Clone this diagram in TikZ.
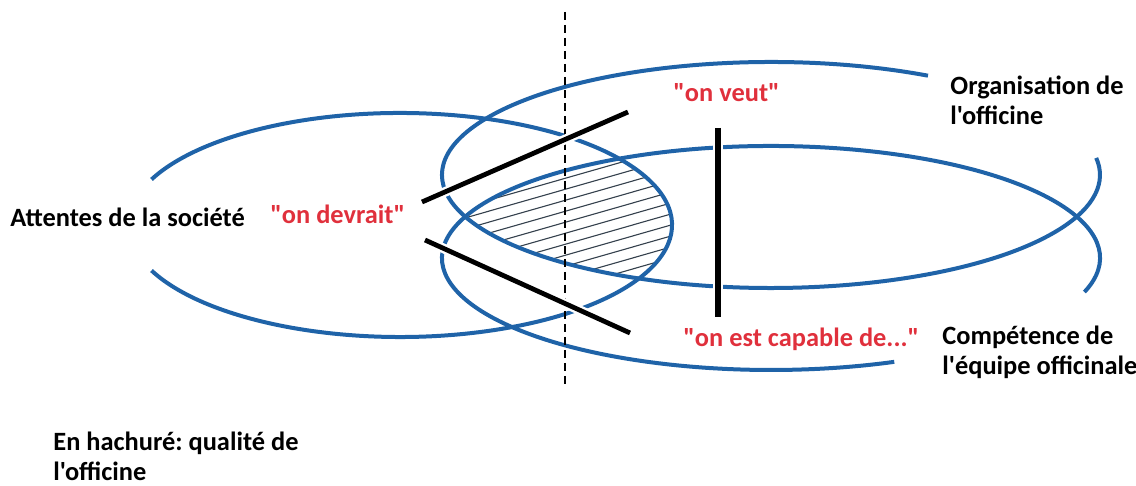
\documentclass[tikz,border=0pt]{standalone}
\usepackage{fontspec}
\setmainfont{Carlito}[Ligatures=TeXOff]
\usepackage{tikz}
\usetikzlibrary{positioning}
\definecolor{ring}{HTML}{1F63A8}
\definecolor{voice}{HTML}{E0303C}
\definecolor{hatchc}{HTML}{34404C}
\frenchspacing
\begin{document}
\begin{tikzpicture}[x=0.5pt,y=0.5pt,
      lbl/.style={font=\bfseries\fontsize{13.2}{15}\selectfont,inner sep=0pt,
                  anchor=west,align=left},
      say/.style={lbl,text=voice},
      loop/.style={ring,line width=2pt},
      bar/.style={line width=2.4pt,preaction={draw=white,line width=4.8pt}},
      hline/.style={hatchc,line width=0.55pt}]
    \useasboundingbox (0,0) rectangle (1136,486);
    \coordinate (cS) at (400,261);
    \coordinate (cO) at (771,311);
    \coordinate (cC) at (771,228);

    % hatched part
    \begin{scope}
      \clip (cS) ellipse [x radius=272, y radius=112];
      \clip (cO) ellipse [x radius=329, y radius=113];
      \clip (cC) ellipse [x radius=329, y radius=112];
      \foreach \b in {115,126,...,310}{
        \draw[hline] (430,\b) -- ++(290,83);}
    \end{scope}

    % the three open rings
    \draw[loop] (cS) ++(-156:272 and 112)
      arc[start angle=-156, end angle=156, x radius=272, y radius=112];
    \draw[loop] (cO) ++(61.5:329 and 113)
      arc[start angle=61.5, end angle=368.7, x radius=329, y radius=113];
    \draw[loop] (cC) ++(-17.7:329 and 112)
      arc[start angle=-17.7, end angle=292, x radius=329, y radius=112];

    % bars
    \coordinate (dTop) at (565,474);
    \coordinate (dBot) at (565,99);
    \draw[line width=1pt,dash pattern=on 4pt off 2.5pt] (dTop) -- (dBot);
    \coordinate (u1) at (422,284); \coordinate (u2) at (628,374);
    \coordinate (l1) at (425,246); \coordinate (l2) at (630,153);
    \coordinate (v1) at (718,358); \coordinate (v2) at (718,169);
    \draw[bar] (u1) -- (u2);
    \draw[bar] (l1) -- (l2);
    \draw[bar,line width=2.9pt] (v1) -- (v2);

    % labels
    \node[lbl] (soc) at (10,269) {Attentes de la société};
    \node[say] (dev) at (270,272) {"on devrait"};
    \node[say] (veut) at (673,393) {"on veut"};
    \node[say] (cap) at (683,147) {"on est capable de..."};
    \node[lbl] (org) at (950,386) {Organisation de\\l'officine};
    \node[lbl] (comp) at (942,134) {Compétence de\\l'équipe officinale};
    \node[lbl] (leg) at (53,30) {En hachuré: qualité de\\l'officine};
  \end{tikzpicture}
\end{document}
